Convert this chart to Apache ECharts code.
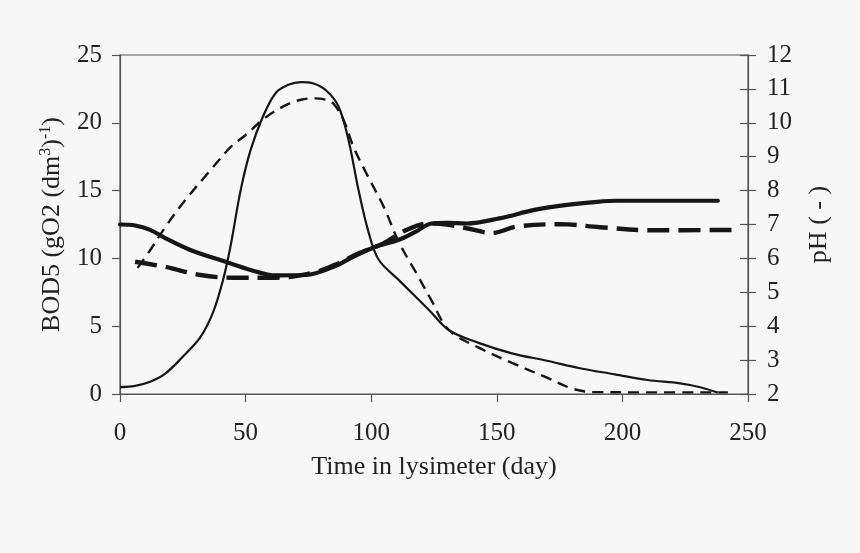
<!DOCTYPE html>
<html>
<head>
<meta charset="utf-8">
<script src="https://cdn.jsdelivr.net/npm/echarts@6/dist/echarts.min.js"></script>
<style>
html,body{margin:0;padding:0;background:#f7f7f7;}
#c{width:860px;height:553px;}
</style>
</head>
<body>
<div id="c"></div>
<script>
// BOD5 series A (thin solid, left axis)
var bodADays = [0, 6, 12, 18, 25, 32, 37, 41, 44, 48, 52, 57, 62, 67, 72, 77, 82, 87, 91, 95, 99, 103, 111, 123, 131, 143, 156, 170, 183, 197, 210, 223, 231, 238];
var bodAVals = [0.5, 0.6, 0.9, 1.5, 2.75, 4.2, 6.0, 8.4, 10.9, 15, 18, 20.5, 22.2, 22.8, 23.0, 22.9, 22.4, 21.2, 18.7, 15, 11.9, 9.9, 8.4, 6.2, 4.7, 3.75, 3.0, 2.45, 1.9, 1.45, 1.03, 0.79, 0.5, 0.1];
// BOD5 series B (thin dashed, left axis)
var bodBDays = [7, 12, 18, 26, 36, 44, 50, 58, 66, 72, 77, 82, 85, 89, 93, 98, 105, 111, 118, 124, 131, 143, 156, 170, 180, 188, 210, 242];
var bodBVals = [9.3, 10.6, 12.3, 14.3, 16.5, 18.2, 19.1, 20.4, 21.3, 21.7, 21.8, 21.7, 21.4, 20.2, 18.2, 16.3, 13.8, 11.2, 8.9, 6.9, 4.7, 3.4, 2.3, 1.2, 0.4, 0.15, 0.12, 0.12];
// pH series A (thick solid, right axis)
var phADays = [0, 6, 12, 18, 28, 42, 52, 62, 74, 85, 93, 102, 111, 118, 124, 130, 138, 151, 165, 178, 190, 198, 238];
var phAVals = [7.0, 6.97, 6.84, 6.6, 6.25, 5.9, 5.66, 5.5, 5.51, 5.75, 6.05, 6.35, 6.55, 6.8, 7.03, 7.05, 7.03, 7.18, 7.43, 7.58, 7.67, 7.7, 7.7];
// pH series B (thick dashed, right axis)
var phBDays = [6, 18, 32, 45, 62, 78, 87, 95, 105, 114, 123, 130, 138, 148, 158, 175, 191, 211, 246];
var phBVals = [5.9, 5.75, 5.51, 5.43, 5.43, 5.6, 5.86, 6.15, 6.45, 6.84, 7.03, 7.0, 6.89, 6.75, 6.94, 7.01, 6.92, 6.83, 6.84];

var xTitle = 'Time in lysimeter (day)';
var leftTitle = '{a|BOD5 (gO2 (dm}{s|3}{a|)}{s|-1}{a|)}';
var rightTitle = 'pH ( - )';

function pairs(d, v) { return d.map(function (x, i) { return [x, v[i]]; }); }

var ink = '#161616';
var axisCol = '#555';
var txt = '#222';
var font = 'Liberation Serif';

var chart = echarts.init(document.getElementById('c'));
chart.setOption({
  backgroundColor: '#f7f7f7',
  animation: false,
  grid: { left: 120, right: 112, top: 55, bottom: 159, show: true, borderColor: axisCol, borderWidth: 1.2, backgroundColor: 'transparent' },
  xAxis: {
    type: 'value', min: 0, max: 250, interval: 50,
    name: xTitle, nameLocation: 'middle', nameGap: 60,
    nameTextStyle: { fontFamily: font, fontSize: 26, color: txt },
    axisLine: { lineStyle: { color: axisCol, width: 1.2 } },
    axisTick: { show: true, length: 8, lineStyle: { color: axisCol, width: 1.2 } },
    axisLabel: { fontFamily: font, fontSize: 25, color: txt, margin: 27 },
    splitLine: { show: false }
  },
  yAxis: [
    {
      type: 'value', min: 0, max: 25, interval: 5, position: 'left',
      name: leftTitle, nameLocation: 'middle', nameGap: 54, nameRotate: 90,
      nameTextStyle: { fontFamily: font, fontSize: 26, color: txt,
        rich: { a: { fontFamily: font, fontSize: 26, color: txt }, s: { fontFamily: font, fontSize: 16, color: txt, verticalAlign: 'top', padding: [0, 0, 12, 0] } } },
      axisLine: { show: true, lineStyle: { color: axisCol, width: 1.2 } },
      axisTick: { show: true, length: 8, lineStyle: { color: axisCol, width: 1.2 } },
      axisLabel: { fontFamily: font, fontSize: 25, color: txt, margin: 18 },
      splitLine: { show: false }
    },
    {
      type: 'value', min: 2, max: 12, interval: 1, position: 'right',
      name: rightTitle, nameLocation: 'middle', nameGap: 58, nameRotate: 90,
      nameTextStyle: { fontFamily: font, fontSize: 26, color: txt },
      axisLine: { show: true, lineStyle: { color: axisCol, width: 1.2 } },
      axisTick: { show: true, length: 8, lineStyle: { color: axisCol, width: 1.2 } },
      axisLabel: { fontFamily: font, fontSize: 25, color: txt, margin: 19 },
      splitLine: { show: false }
    },
    {
      type: 'value', min: 2, max: 12, interval: 1, position: 'right',
      axisLine: { show: false },
      axisTick: { show: true, inside: true, length: 8, lineStyle: { color: axisCol, width: 1.2 } },
      axisLabel: { show: false },
      splitLine: { show: false }
    }
  ],
  series: [
    { type: 'line', yAxisIndex: 0, data: pairs(bodADays, bodAVals), showSymbol: false, symbol: 'none', smooth: 0.35,
      lineStyle: { color: ink, width: 2.2 } },
    { type: 'line', yAxisIndex: 0, data: pairs(bodBDays, bodBVals), showSymbol: false, symbol: 'none', smooth: 0.35,
      lineStyle: { color: ink, width: 2.4, type: [11, 7] } },
    { type: 'line', yAxisIndex: 1, data: pairs(phADays, phAVals), showSymbol: false, symbol: 'none', smooth: 0.35,
      lineStyle: { color: ink, width: 4.2, cap: 'round' } },
    { type: 'line', yAxisIndex: 1, data: pairs(phBDays, phBVals), showSymbol: false, symbol: 'none', smooth: 0.35,
      lineStyle: { color: ink, width: 4.4, type: [22, 9] } }
  ]
});
</script>
</body>
</html>
